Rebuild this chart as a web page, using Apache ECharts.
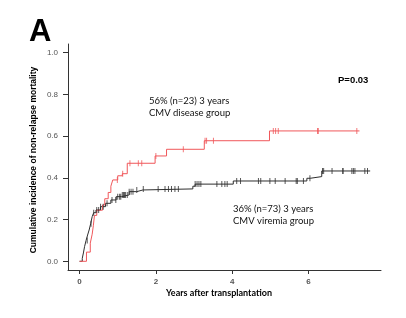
<!DOCTYPE html>
<html><head><meta charset="utf-8">
<script src="https://cdn.jsdelivr.net/npm/echarts@6/dist/echarts.min.js"></script>
<style>html,body{margin:0;padding:0;background:#fff}#c{width:406px;height:318px}</style>
</head><body><div id="c"></div>
<script>
// Step curves: [years, cumulative incidence]
var diseaseSteps = [[0,0],[0.18,0.044],[0.28,0.087],[0.33,0.13],[0.36,0.17],[0.39,0.22],[0.45,0.245],[0.6,0.27],[0.66,0.30],[0.75,0.33],[0.82,0.36],[0.87,0.39],[1.0,0.41],[1.12,0.42],[1.25,0.47],[1.98,0.505],[2.28,0.537],[3.27,0.578],[4.98,0.625],[7.34,0.625]];
var viremiaSteps = [[0,0],[0.07,0.014],[0.10,0.04],[0.13,0.07],[0.17,0.10],[0.21,0.126],[0.25,0.15],[0.29,0.18],[0.33,0.214],[0.37,0.233],[0.43,0.246],[0.55,0.262],[0.68,0.278],[0.82,0.294],[0.96,0.31],[1.1,0.318],[1.3,0.334],[1.5,0.342],[1.66,0.347],[2.97,0.36],[3.03,0.37],[4.03,0.385],[5.96,0.398],[6.05,0.406],[6.35,0.433],[7.62,0.433]];
// Censoring times
var diseaseCensor = [0.99,1.13,1.32,1.54,1.63,2.0,2.72,3.29,3.33,3.51,5.08,5.14,5.21,6.24,6.26,7.27];
var viremiaCensor = [0.2,0.3,0.37,0.45,0.5,0.55,0.62,0.72,0.85,0.95,1.0,1.05,1.08,1.12,1.15,1.18,1.2,1.25,1.3,1.35,1.4,1.5,1.67,2.06,2.24,2.33,2.41,2.5,2.59,3.03,3.08,3.13,3.18,3.6,3.73,3.81,3.87,4.12,4.22,4.69,4.75,4.99,5.13,5.39,5.68,5.71,5.87,6.04,6.37,6.4,6.62,6.9,6.91,7.14,7.18,7.22,7.48,7.55];
var xTicks = [0,2,4,6];
var yTicks = [0,0.2,0.4,0.6,0.8,1.0];

function stepAt(steps, t){var v=steps[0][1];for(var i=0;i<steps.length;i++){if(steps[i][0]<=t)v=steps[i][1];}return v;}
function censorPts(steps, times){return times.map(function(t){return [t, stepAt(steps,t)];});}

var red = '#f0575a', blk = '#2e2e2e';
var chart = echarts.init(document.getElementById('c'));
chart.setOption({
  animation:false,
  grid:{left:68,right:25,top:44,bottom:48},
  xAxis:{type:'value',min:-0.304,max:7.904,splitLine:{show:false},
    axisLine:{show:true,onZero:false,lineStyle:{color:'#333',width:1}},
    axisTick:{show:true,length:4,customValues:xTicks,lineStyle:{color:'#333'}},
    axisLabel:{customValues:xTicks,margin:8,fontSize:8,fontWeight:'bold',color:'#555',fontFamily:'Liberation Sans'}},
  yAxis:{type:'value',min:-0.0417,max:1.0417,splitLine:{show:false},
    axisLine:{show:true,onZero:false,lineStyle:{color:'#333',width:1}},
    axisTick:{show:true,length:5,customValues:yTicks,lineStyle:{color:'#333'}},
    axisLabel:{customValues:yTicks,margin:10,fontSize:8,color:'#555',fontFamily:'Liberation Sans',
      formatter:function(v){return v.toFixed(1);}}},
  series:[
    {type:'line',step:'end',data:viremiaSteps,symbol:'none',lineStyle:{color:blk,width:1},z:3},
    {type:'line',step:'end',data:diseaseSteps,symbol:'none',lineStyle:{color:red,width:1},z:4},
    {type:'scatter',data:censorPts(viremiaSteps,viremiaCensor),symbol:'rect',symbolSize:[1,6],itemStyle:{color:blk},z:5},
    {type:'scatter',data:censorPts(diseaseSteps,diseaseCensor),symbol:'rect',symbolSize:[1,6],itemStyle:{color:red},z:6}
  ],
  graphic:[
    {type:'text',left:29,top:17,style:{text:'A',font:'bold 31px Liberation Sans',fill:'#000'}},
    {type:'text',left:338,top:75,style:{text:'P=0.03',font:'bold 9.5px Liberation Sans',fill:'#000'}},
    {type:'text',left:149,top:95,style:{text:'56% (n=23) 3 years\nCMV disease group',font:'9.5px Lato',lineHeight:12,fill:'#111'}},
    {type:'text',left:233,top:203,style:{text:'36% (n=73) 3 years\nCMV viremia group',font:'9.5px Lato',lineHeight:12,fill:'#111'}},
    {type:'text',x:219,y:293,style:{text:'Years after transplantation',font:'bold 9px Lato',fill:'#000',align:'center',verticalAlign:'middle'}},
    {type:'text',x:34,y:160,rotation:Math.PI/2,style:{text:'Cumulative incidence of non-relapse mortality',font:'bold 8.5px Liberation Sans',fill:'#000',align:'center',verticalAlign:'middle'}}
  ]
});
</script></body></html>
